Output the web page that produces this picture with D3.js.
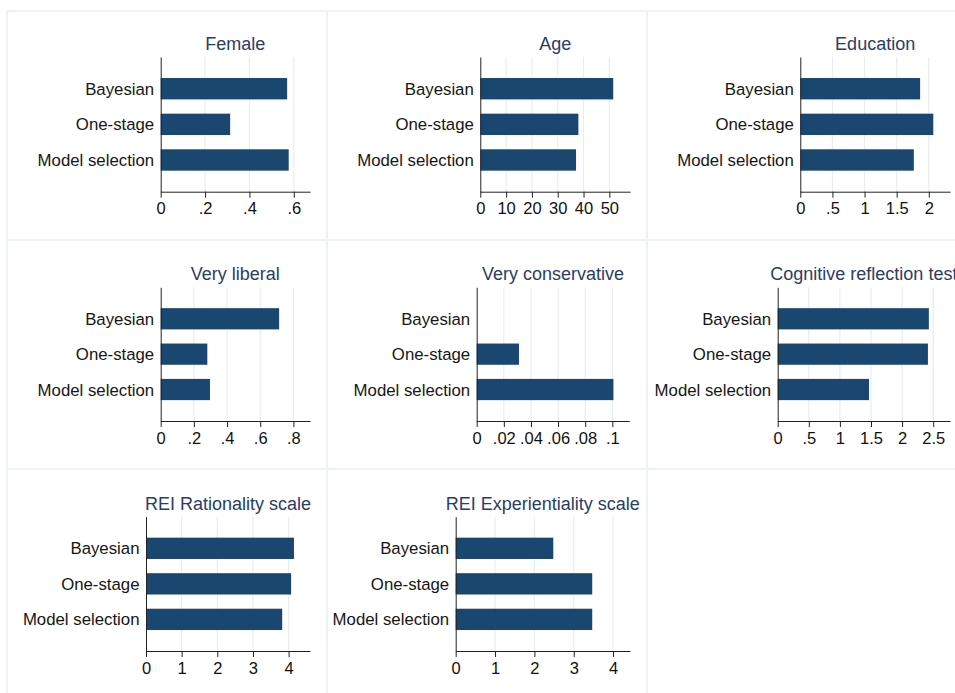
<!DOCTYPE html>
<meta charset="utf-8">
<style>
body { margin: 0; background: #fff; }
text { font-family: "Liberation Sans", Arial, Helvetica, sans-serif; }
.grid { stroke: #e6eef1; stroke-width: 1.2px; }
.frame { fill: none; stroke: #edf2f4; stroke-width: 2px; }
</style>
<body>
<script src="https://d3js.org/d3.v7.min.js"></script>
<script>

// categories and values
var methods = ["Bayesian", "One-stage", "Model selection"];
var titles = ["Female", "Age", "Education", "Very liberal", "Very conservative",
              "Cognitive reflection test", "REI Rationality scale", "REI Experientiality scale"];
var female      = [0.570, 0.313, 0.577];
var age         = [51.5, 38.0, 37.1];
var education   = [1.865, 2.07, 1.767];
var veryLiberal = [0.714, 0.281, 0.297];
var veryCons    = [0, 0.0312, 0.1008];
var crt         = [2.43, 2.415, 1.468];
var reiRational = [4.15, 4.07, 3.82];
var reiExper    = [2.48, 3.47, 3.47];
var series = [female, age, education, veryLiberal, veryCons, crt, reiRational, reiExper];

// tick values per panel
var ticks = [
  [0, .2, .4, .6],
  [0, 10, 20, 30, 40, 50],
  [0, .5, 1, 1.5, 2],
  [0, .2, .4, .6, .8],
  [0, .02, .04, .06, .08, .1],
  [0, .5, 1, 1.5, 2, 2.5],
  [0, 1, 2, 3, 4],
  [0, 1, 2, 3, 4]
];
// axis extent (value at right end of the axis line)
var axisMax = [0.673, 58, 2.33, 0.9, 0.1125, 2.77, 4.6, 4.43];

// layout of each plot region
var plotLeft  = [160.7, 480.3, 800.3, 160.7, 476.7, 777.7, 146, 455.7];
var plotRight = [310, 630, 950, 310, 629.3, 950, 310, 630];
var rowTop    = [57, 287.3, 516.7];
var rowBottom = [191.7, 421, 651];

var svg = d3.select("body").append("svg")
    .attr("width", 955)
    .attr("height", 693);

// panel frames
for (var p = 0; p < 8; p++) {
  svg.append("rect")
      .attr("class", "frame")
      .attr("x", 7 + (p % 3) * 320)
      .attr("y", 11 + Math.floor(p / 3) * 229)
      .attr("width", 320)
      .attr("height", 229);
}

// stata style tick labels: drop leading zero
function fmt(v) {
  var s = String(+v.toFixed(4));
  return s.replace(/^0\./, ".");
}

series.forEach(function(vals, i) {
  var row = Math.floor(i / 3);
  var top = rowTop[row], bottom = rowBottom[row];

  var x = d3.scaleLinear().domain([0, axisMax[i]]).range([plotLeft[i], plotRight[i]]);
  var y = d3.scaleBand().domain(methods).range([top, bottom])
      .paddingInner(0.4).paddingOuter(0.59);

  var g = svg.append("g");

  // grid lines
  g.selectAll(".grid")
    .data(ticks[i].filter(function(t) { return t > 0; }))
    .enter().append("line")
      .attr("class", "grid")
      .attr("x1", function(d) { return x(d); })
      .attr("x2", function(d) { return x(d); })
      .attr("y1", top)
      .attr("y2", bottom);

  // bars
  g.selectAll(".bar")
    .data(vals)
    .enter().append("rect")
      .attr("class", "bar")
      .attr("x", x(0))
      .attr("y", function(d, j) { return y(methods[j]); })
      .attr("width", function(d) { return x(d) - x(0); })
      .attr("height", y.bandwidth())
      .style("fill", "#1a476f");

  // x axis
  var xAxis = g.append("g")
      .attr("transform", "translate(0," + bottom + ")")
      .call(d3.axisBottom(x).tickValues(ticks[i]).tickFormat(fmt).tickSize(6).tickSizeOuter(0));
  xAxis.select(".domain").attr("stroke", "#222");
  xAxis.selectAll(".tick line").attr("stroke", "#222");
  xAxis.selectAll(".tick text")
      .attr("y", 11)
      .attr("dy", "0.71em")
      .style("font-size", "16.5px")
      .style("fill", "#111");

  // y axis
  var yAxis = g.append("g")
      .attr("transform", "translate(" + x(0) + ",0)")
      .call(d3.axisLeft(y).tickSize(0).tickPadding(6.5));
  yAxis.select(".domain").attr("stroke", "#222");
  yAxis.selectAll(".tick text")
      .attr("dy", "0.36em")
      .style("font-size", "16.8px")
      .style("fill", "#161616");

  // title
  g.append("text")
      .attr("x", (plotLeft[i] + plotRight[i]) / 2)
      .attr("y", top - 7)
      .attr("text-anchor", "middle")
      .style("font-size", "18px")
      .style("fill", "#2a3d66")
      .text(titles[i]);
});

</script>
</body>
